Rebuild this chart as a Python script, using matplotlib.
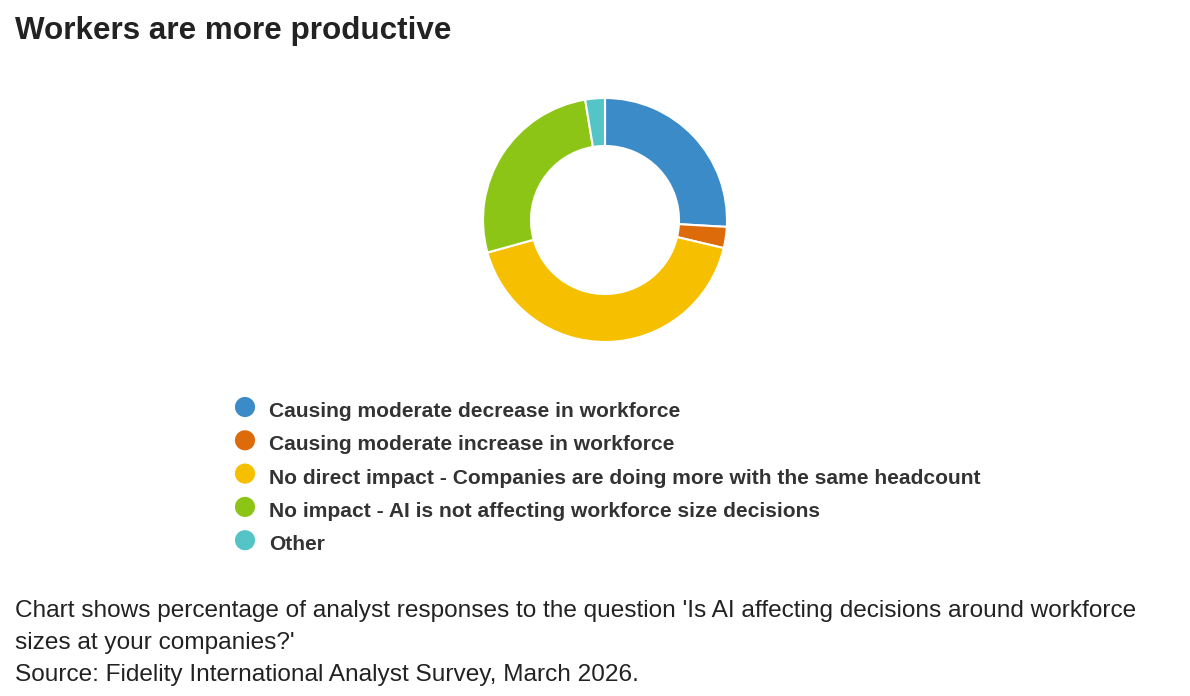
import matplotlib
matplotlib.use("Agg")
import matplotlib.pyplot as plt

plt.rcParams['font.family'] = ['Liberation Sans', 'DejaVu Sans']

# === Data ===
labels = [
    "Causing moderate decrease in workforce",
    "Causing moderate increase in workforce",
    "No direct impact - Companies are doing more with the same headcount",
    "No impact - AI is not affecting workforce size decisions",
    "Other",
]
shares = [25.9, 2.8, 42.0, 26.7, 2.6]
colors = ["#3B8BC9", "#DD6B09", "#F6BF00", "#8DC516", "#54C4C6"]

title = "Workers are more productive"
footer = [
    "Chart shows percentage of analyst responses to the question 'Is AI affecting decisions around workforce",
    "sizes at your companies?'",
    "Source: Fidelity International Analyst Survey, March 2026.",
]

W, H = 1190, 696
fig = plt.figure(figsize=(W / 100, H / 100), dpi=100)

# overlay axes in pixel coords for text + legend
lay = fig.add_axes([0, 0, 1, 1])
lay.set_xlim(0, W)
lay.set_ylim(H, 0)
lay.axis("off")

# donut, centred at (605, 220) px
cx, cy, half = 605, 220, 130
ax = fig.add_axes([(cx - half) / W, (H - cy - half) / H, 2 * half / W, 2 * half / H])
r_out = 122 / half
ax.pie(shares, colors=colors, startangle=90, counterclock=False, radius=r_out,
       wedgeprops=dict(width=48 / half, edgecolor="white", linewidth=1.5))
ax.set_xlim(-1, 1)
ax.set_ylim(-1, 1)
ax.set_aspect("equal")

lay.text(15, 39.5, title, fontsize=22.6, fontweight="bold", color="#222222",
         va="baseline", ha="left")

# legend
for i, (lab, col) in enumerate(zip(labels, colors)):
    y = 407 + i * 33.3
    lay.scatter([245], [y], s=210, color=col, edgecolors="none")
    lay.text(269, y + 10, lab, fontsize=15.1, fontweight="bold", color="#333333",
             va="baseline", ha="left")

for i, line in enumerate(footer):
    lay.text(15, 616.7 + i * 32.2, line, fontsize=17.6, color="#222222",
             va="baseline", ha="left")

fig.savefig("out.png", dpi=100)
